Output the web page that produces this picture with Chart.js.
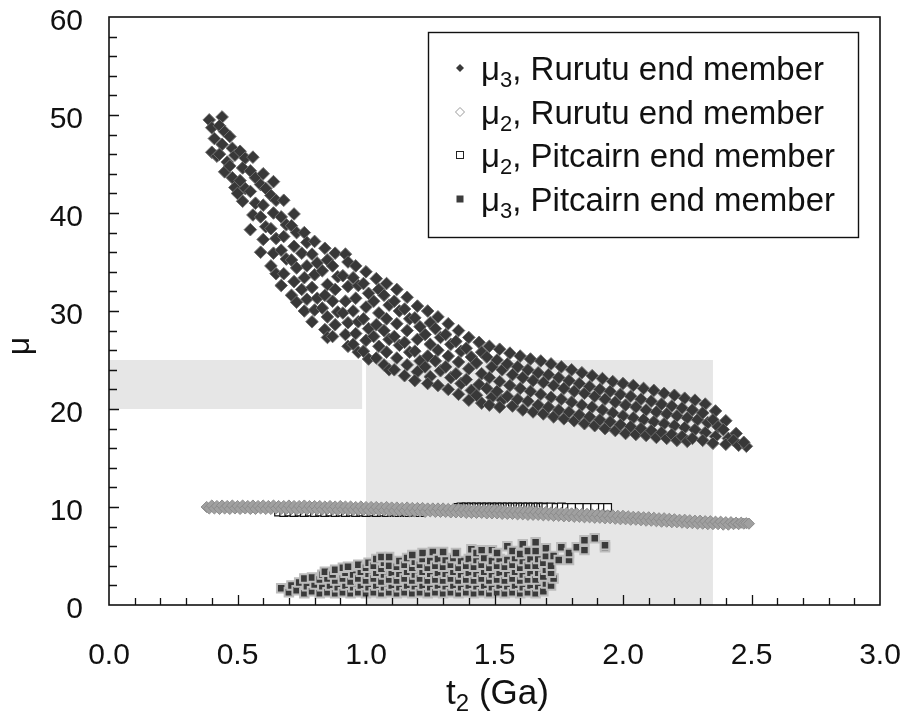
<!DOCTYPE html>
<html>
<head>
<meta charset="utf-8">
<script src="https://cdn.jsdelivr.net/npm/chart.js@4.4.1/dist/chart.umd.min.js"></script>
<style>
  html, body { margin: 0; padding: 0; background: #fff; }
  #wrap { width: 906px; height: 722px; }
</style>
</head>
<body>
<div id="wrap"><canvas id="mu-chart" width="906" height="722"></canvas></div>
<script>
"use strict";

const FONT = '"Liberation Sans", Arial, sans-serif';

const seriesLabels = [
    "μ3, Rurutu end member",
    "μ2, Rurutu end member",
    "μ2, Pitcairn end member",
    "μ3, Pitcairn end member",
];
const xTicks = [0.0, 0.5, 1.0, 1.5, 2.0, 2.5, 3.0];
const yTicks = [0, 10, 20, 30, 40, 50, 60];

// shaded ranges: [t2 from, t2 to, mu from, mu to]
const shadedBands = [
    [0.0, 0.985, 20, 25],
    [1.0, 2.35, 0, 25],
];

// [t2 (Ga), mu]
const rurutuMu3 = [
    [0.39,49.5],[0.40,48.7],[0.41,47.6],[0.40,46.2],[0.42,45.8],
    [0.44,49.8],[0.43,48.9],[0.45,48.3],[0.44,47.0],[0.43,46.0],[0.46,45.2],[0.45,44.2],
    [0.47,47.8],[0.48,46.6],[0.49,45.9],[0.47,44.8],[0.48,43.6],[0.49,42.6],
    [0.51,46.3],[0.53,45.6],[0.52,44.6],[0.51,43.3],[0.53,42.5],[0.52,41.2],[0.50,42.0],
    [0.56,45.7],[0.55,44.3],[0.57,43.6],[0.55,42.2],[0.57,41.0],[0.56,39.8],[0.55,38.3],
    [0.60,44.0],[0.59,42.9],[0.61,42.5],[0.60,40.8],[0.59,39.6],[0.61,38.6],[0.60,37.3],[0.59,36.0],
    [0.64,43.2],[0.63,41.8],[0.65,41.3],[0.64,40.0],[0.63,38.4],[0.65,37.4],[0.64,35.9],[0.63,34.6],[0.65,33.8],
    [0.68,41.3],[0.67,39.6],[0.69,38.8],[0.68,37.6],[0.67,36.2],[0.69,35.3],[0.68,33.8],[0.67,32.6],
    [0.72,39.9],[0.71,38.7],[0.73,38.0],[0.72,36.6],[0.71,35.2],[0.73,34.4],[0.72,33.0],[0.71,31.6],[0.73,30.9],
    [0.76,38.0],[0.77,37.0],[0.75,35.9],[0.77,34.6],[0.76,33.4],[0.75,32.2],[0.77,31.2],[0.76,30.0],
    [0.80,37.1],[0.79,35.8],[0.81,34.9],[0.80,33.7],[0.79,32.4],[0.81,31.3],[0.80,30.1],[0.79,28.9],
    [0.84,36.4],[0.85,35.2],[0.83,34.1],[0.85,32.7],[0.84,31.6],[0.83,30.3],[0.85,29.4],[0.84,28.1],[0.85,27.3],
    [0.88,35.9],[0.87,34.6],[0.89,33.5],[0.88,32.2],[0.87,31.0],[0.89,29.9],[0.88,28.6],[0.87,27.4],
    [0.92,35.8],[0.93,35.0],[0.91,33.6],[0.93,32.5],[0.92,31.0],[0.91,29.8],[0.93,28.8],[0.92,27.6],[0.93,26.4],
    [0.96,34.6],[0.95,33.4],[0.97,32.6],[0.96,31.3],[0.95,30.0],[0.97,28.9],[0.96,27.7],[0.95,26.6],[0.97,25.8],
    [1.00,34.0],[0.99,32.8],[1.01,31.8],[1.00,30.4],[0.99,29.2],[1.01,28.2],[1.00,27.0],[0.99,25.9],[1.01,25.1],
    [1.04,33.3],[1.05,32.2],[1.03,31.0],[1.05,29.8],[1.04,28.6],[1.03,27.4],[1.05,26.4],[1.04,25.2],
    [1.08,32.8],[1.07,31.6],[1.09,30.6],[1.08,29.2],[1.07,28.0],[1.09,27.1],[1.08,25.8],[1.07,24.5],[1.09,24.0],
    [1.12,32.2],[1.11,31.0],[1.13,30.0],[1.12,28.7],[1.11,27.4],[1.13,26.5],[1.12,25.2],[1.11,24.0],
    [1.16,31.4],[1.15,30.2],[1.17,29.2],[1.16,28.0],[1.15,26.8],[1.17,25.8],[1.16,24.5],[1.15,23.4],
    [1.20,30.5],[1.19,29.3],[1.21,28.4],[1.20,27.1],[1.19,25.9],[1.21,24.9],[1.20,23.8],[1.19,22.9],
    [1.24,30.0],[1.25,28.8],[1.23,27.6],[1.25,26.6],[1.24,25.4],[1.23,24.3],[1.25,23.3],[1.24,22.6],
    [1.28,29.4],[1.27,28.2],[1.29,27.3],[1.28,26.0],[1.27,24.9],[1.29,23.9],[1.28,22.4],
    [1.32,28.7],[1.31,27.6],[1.33,26.6],[1.32,25.4],[1.31,24.3],[1.33,23.2],[1.32,22.0],
    [1.36,28.0],[1.35,26.9],[1.37,25.9],[1.36,24.8],[1.35,23.6],[1.37,22.6],[1.36,21.5],
    [1.40,27.3],[1.39,26.2],[1.41,25.3],[1.40,24.1],[1.39,23.0],[1.41,21.9],[1.40,20.9],
    [1.44,26.8],[1.45,25.8],[1.43,24.7],[1.45,23.6],[1.44,22.5],[1.43,21.4],[1.45,20.6],
    [1.48,26.4],[1.47,25.3],[1.49,24.3],[1.48,23.2],[1.47,22.1],[1.49,21.2],[1.48,20.4],
    [1.52,26.1],[1.51,25.0],[1.53,24.0],[1.52,22.8],[1.51,21.8],[1.53,20.9],[1.52,20.2],
    [1.56,25.7],[1.55,24.6],[1.57,23.5],[1.56,22.4],[1.55,21.3],[1.57,20.3],
    [1.60,25.4],[1.59,24.3],[1.61,23.2],[1.60,22.1],[1.59,21.0],[1.61,19.9],
    [1.64,25.1],[1.63,24.0],[1.65,22.9],[1.64,21.8],[1.63,20.8],[1.65,19.7],
    [1.68,24.9],[1.67,23.7],[1.69,22.7],[1.68,21.5],[1.67,20.4],[1.69,19.5],
    [1.72,24.6],[1.71,23.5],[1.73,22.4],[1.72,21.2],[1.71,20.2],[1.73,19.2],
    [1.76,24.3],[1.75,23.2],[1.77,22.1],[1.76,21.0],[1.75,19.9],[1.77,19.0],
    [1.80,24.0],[1.79,22.9],[1.81,21.8],[1.80,20.7],[1.79,19.7],[1.81,18.8],
    [1.84,23.7],[1.83,22.6],[1.85,21.6],[1.84,20.4],[1.83,19.4],[1.85,18.5],
    [1.88,23.4],[1.87,22.3],[1.89,21.3],[1.88,20.2],[1.87,19.2],[1.89,18.3],
    [1.92,23.1],[1.91,22.0],[1.93,21.0],[1.92,19.9],[1.91,18.9],[1.93,18.0],
    [1.96,22.8],[1.95,21.8],[1.97,20.7],[1.96,19.6],[1.95,18.7],[1.97,17.8],
    [2.00,22.6],[1.99,21.5],[2.01,20.4],[2.00,19.3],[1.99,18.4],[2.01,17.5],
    [2.04,22.4],[2.03,21.3],[2.05,20.2],[2.04,19.1],[2.03,18.2],[2.05,17.4],
    [2.08,22.1],[2.07,21.0],[2.09,19.9],[2.08,18.9],[2.07,18.0],[2.09,17.3],
    [2.12,21.9],[2.11,20.8],[2.13,19.7],[2.12,18.7],[2.11,17.8],[2.13,17.1],
    [2.16,21.6],[2.15,20.5],[2.17,19.5],[2.16,18.5],[2.15,17.6],[2.17,17.0],
    [2.20,21.4],[2.19,20.3],[2.21,19.3],[2.20,18.3],[2.19,17.4],[2.21,16.8],
    [2.24,21.1],[2.23,20.1],[2.25,19.1],[2.24,18.1],[2.23,17.2],[2.25,16.7],
    [2.28,20.9],[2.27,19.9],[2.29,18.9],[2.28,17.9],[2.27,17.0],
    [2.32,20.5],[2.31,19.6],[2.33,18.6],[2.32,17.6],[2.31,16.8],
    [2.36,19.8],[2.35,18.9],[2.37,18.2],[2.36,17.2],[2.35,16.5],
    [2.40,18.8],[2.39,17.9],[2.41,17.0],[2.40,16.4],
    [2.44,17.5],[2.43,16.8],[2.45,16.3],
    [2.48,16.2],[2.47,16.6],
];

const rurutuMu2 = [
    [0.38,10.0],[0.39,9.85],[0.40,10.15],[0.41,9.85],[0.42,10.1],[0.43,9.8],[0.44,10.15],[0.45,9.85],[0.46,10.1],[0.47,9.8],[0.48,10.15],[0.49,9.85],
    [0.50,10.1],[0.51,9.8],[0.52,10.15],[0.53,9.85],[0.54,10.1],[0.55,9.8],[0.56,10.15],[0.57,9.8],[0.58,10.1],[0.59,9.85],
    [0.60,10.15],[0.61,9.8],[0.62,10.1],[0.63,9.8],[0.64,10.15],[0.65,9.85],[0.66,10.1],[0.67,9.8],[0.68,10.1],[0.69,9.8],
    [0.70,10.15],[0.71,9.8],[0.72,10.1],[0.73,9.75],[0.74,10.1],[0.75,9.8],[0.76,10.15],[0.77,9.75],[0.78,10.1],[0.79,9.8],
    [0.80,10.1],[0.81,9.75],[0.82,10.1],[0.83,9.75],[0.84,10.05],[0.85,9.8],[0.86,10.1],[0.87,9.75],[0.88,10.05],[0.89,9.7],
    [0.90,10.1],[0.91,9.75],[0.92,10.05],[0.93,9.7],[0.94,10.05],[0.95,9.7],[0.96,10.0],[0.97,9.7],[0.98,10.05],[0.99,9.7],
    [1.00,10.0],[1.01,9.65],[1.02,10.0],[1.03,9.7],[1.04,10.0],[1.05,9.65],[1.06,9.95],[1.07,9.65],[1.08,10.0],[1.09,9.6],
    [1.10,9.95],[1.11,9.6],[1.12,9.95],[1.13,9.6],[1.14,9.9],[1.15,9.6],[1.16,9.95],[1.17,9.55],[1.18,9.9],[1.19,9.55],
    [1.20,9.9],[1.21,9.55],[1.22,9.9],[1.23,9.5],[1.24,9.85],[1.25,9.55],[1.26,9.85],[1.27,9.5],[1.28,9.85],[1.29,9.5],
    [1.30,9.85],[1.31,9.5],[1.32,9.8],[1.33,9.45],[1.34,9.8],[1.35,9.45],[1.36,9.8],[1.37,9.45],[1.38,9.75],[1.39,9.4],
    [1.40,9.75],[1.41,9.4],[1.42,9.75],[1.43,9.4],[1.44,9.7],[1.45,9.4],[1.46,9.7],[1.47,9.35],[1.48,9.7],[1.49,9.35],
    [1.50,9.7],[1.51,9.35],[1.52,9.65],[1.53,9.3],[1.54,9.65],[1.55,9.3],[1.56,9.6],[1.57,9.3],[1.58,9.6],[1.59,9.25],
    [1.60,9.6],[1.61,9.25],[1.62,9.55],[1.63,9.2],[1.64,9.55],[1.65,9.2],[1.66,9.5],[1.67,9.2],[1.68,9.5],[1.69,9.15],
    [1.70,9.5],[1.71,9.15],[1.72,9.45],[1.73,9.1],[1.74,9.45],[1.75,9.1],[1.76,9.4],[1.77,9.05],[1.78,9.4],[1.79,9.05],
    [1.80,9.35],[1.81,9.0],[1.82,9.35],[1.83,9.0],[1.84,9.3],[1.85,8.95],[1.86,9.3],[1.87,8.95],[1.88,9.25],[1.89,8.9],
    [1.90,9.25],[1.91,8.9],[1.92,9.2],[1.93,8.85],[1.94,9.15],[1.95,8.85],[1.96,9.15],[1.97,8.8],[1.98,9.1],[1.99,8.75],
    [2.00,9.1],[2.01,8.75],[2.02,9.05],[2.03,8.7],[2.04,9.0],[2.05,8.7],[2.06,9.0],[2.07,8.65],[2.08,8.95],[2.09,8.6],
    [2.10,8.95],[2.11,8.6],[2.12,8.9],[2.13,8.55],[2.14,8.85],[2.15,8.5],[2.16,8.85],[2.17,8.5],[2.18,8.8],[2.19,8.45],
    [2.20,8.75],[2.21,8.45],[2.22,8.7],[2.23,8.4],[2.24,8.7],[2.25,8.35],[2.26,8.65],[2.27,8.35],[2.28,8.6],[2.29,8.3],
    [2.30,8.6],[2.31,8.3],[2.32,8.55],[2.33,8.25],[2.34,8.55],[2.35,8.25],[2.36,8.5],[2.37,8.25],[2.38,8.5],[2.39,8.2],
    [2.40,8.45],[2.41,8.2],[2.42,8.45],[2.43,8.25],[2.44,8.4],[2.45,8.25],[2.46,8.4],[2.47,8.3],[2.48,8.35],[2.49,8.3],
];

const pitcairnMu2 = [
    [0.66,9.5],[0.68,9.45],[0.70,9.5],[0.72,9.45],[0.74,9.5],[0.76,9.45],[0.78,9.5],[0.80,9.45],
    [0.82,9.5],[0.84,9.45],[0.86,9.5],[0.88,9.45],[0.90,9.5],[0.92,9.45],[0.94,9.5],[0.96,9.45],
    [0.98,9.5],[1.00,9.45],[1.02,9.5],[1.04,9.45],[1.06,9.5],[1.08,9.45],[1.10,9.5],[1.12,9.45],
    [1.14,9.5],[1.16,9.45],[1.18,9.5],[1.21,9.45],
    [1.36,9.95],[1.37,10.0],[1.38,9.95],[1.39,10.0],[1.40,9.95],[1.41,10.0],[1.42,9.95],[1.43,10.0],
    [1.44,9.95],[1.45,10.0],[1.46,9.95],[1.47,10.0],[1.48,9.95],[1.49,10.0],[1.50,9.95],[1.51,10.0],
    [1.52,9.95],[1.53,10.0],[1.54,9.95],[1.55,10.0],[1.56,9.95],[1.57,10.0],[1.58,9.95],[1.59,10.0],
    [1.60,9.95],[1.61,10.0],[1.62,9.95],[1.63,10.0],[1.64,9.95],[1.65,10.0],[1.66,9.95],[1.67,10.0],
    [1.68,9.95],[1.69,10.0],[1.70,9.95],[1.72,10.0],[1.74,9.95],[1.76,10.0],[1.78,9.95],[1.80,9.95],
    [1.83,9.95],[1.86,9.95],[1.89,9.95],[1.92,9.95],[1.94,9.95],
];

const pitcairnMu3 = [
    [0.67,1.7],
    [0.70,1.3],[0.71,2.0],
    [0.73,1.5],[0.74,2.3],
    [0.76,1.2],[0.77,1.9],[0.76,2.7],
    [0.79,1.4],[0.80,2.1],[0.79,2.8],
    [0.82,1.2],[0.83,1.9],[0.82,2.6],[0.83,3.1],
    [0.85,1.3],[0.86,2.0],[0.85,2.7],[0.84,3.4],
    [0.88,1.2],[0.89,1.8],[0.88,2.5],[0.87,3.1],[0.88,3.6],
    [0.91,1.3],[0.92,2.0],[0.91,2.7],[0.92,3.3],[0.91,3.8],
    [0.94,1.2],[0.95,1.8],[0.94,2.4],[0.95,3.1],[0.93,3.9],
    [0.97,1.3],[0.98,2.0],[0.97,2.7],[0.98,3.4],[0.97,4.1],
    [1.00,1.2],[1.01,1.8],[1.00,2.5],[1.01,3.2],[1.00,3.8],[1.01,4.3],
    [1.03,1.3],[1.04,2.0],[1.03,2.7],[1.04,3.3],[1.03,4.0],[1.04,4.7],
    [1.06,1.2],[1.07,1.8],[1.06,2.4],[1.07,3.1],[1.06,3.7],[1.07,4.3],[1.06,4.9],
    [1.09,1.3],[1.10,2.0],[1.09,2.6],[1.10,3.3],[1.09,4.0],[1.09,4.9],
    [1.12,1.2],[1.13,1.8],[1.12,2.5],[1.13,3.2],[1.12,3.9],[1.13,4.5],
    [1.15,1.3],[1.16,2.0],[1.15,2.7],[1.16,3.4],[1.15,4.1],[1.16,4.8],
    [1.18,1.2],[1.19,1.9],[1.18,2.5],[1.19,3.1],[1.18,3.8],[1.19,4.4],[1.18,5.1],
    [1.21,1.3],[1.22,2.0],[1.21,2.7],[1.22,3.4],[1.21,4.1],[1.22,4.7],[1.22,5.3],
    [1.24,1.2],[1.25,1.8],[1.24,2.5],[1.25,3.2],[1.24,3.8],[1.25,4.5],[1.26,5.4],
    [1.27,1.3],[1.28,2.0],[1.27,2.6],[1.28,3.3],[1.27,4.0],[1.28,4.7],
    [1.30,1.2],[1.31,1.9],[1.30,2.5],[1.31,3.2],[1.30,3.9],[1.31,4.6],[1.30,5.4],
    [1.33,1.3],[1.34,2.0],[1.33,2.7],[1.34,3.4],[1.33,4.1],[1.34,4.8],
    [1.36,1.2],[1.37,1.8],[1.36,2.5],[1.37,3.1],[1.36,3.8],[1.37,4.5],[1.35,5.3],
    [1.39,1.3],[1.40,2.0],[1.39,2.6],[1.40,3.3],[1.39,4.0],[1.40,4.7],[1.41,5.7],
    [1.42,1.2],[1.43,1.9],[1.42,2.5],[1.43,3.2],[1.42,3.9],[1.43,4.6],[1.43,5.3],
    [1.45,1.3],[1.46,2.0],[1.45,2.7],[1.46,3.4],[1.45,4.1],[1.46,4.8],[1.45,5.6],
    [1.48,1.2],[1.49,1.8],[1.48,2.5],[1.49,3.1],[1.48,3.8],[1.49,4.5],[1.49,5.6],
    [1.51,1.3],[1.52,2.0],[1.51,2.6],[1.52,3.3],[1.51,4.0],[1.52,4.7],[1.51,5.3],
    [1.54,1.2],[1.55,1.9],[1.54,2.5],[1.55,3.2],[1.54,3.9],[1.55,4.6],[1.55,6.0],
    [1.57,1.3],[1.58,2.0],[1.57,2.7],[1.58,3.4],[1.57,4.1],[1.58,4.8],[1.57,5.5],
    [1.60,1.2],[1.61,1.8],[1.60,2.5],[1.61,3.1],[1.60,3.8],[1.61,4.5],[1.60,5.2],[1.61,6.2],
    [1.63,1.3],[1.64,2.0],[1.63,2.6],[1.64,3.3],[1.63,4.0],[1.64,4.7],[1.63,5.5],
    [1.66,1.2],[1.67,1.9],[1.66,2.6],[1.67,3.3],[1.66,4.0],[1.67,4.7],[1.66,5.5],[1.66,6.4],
    [1.69,1.4],[1.70,2.2],[1.69,2.9],[1.70,3.6],[1.69,4.3],[1.70,5.0],[1.70,5.8],
    [1.72,2.0],[1.73,2.7],[1.72,3.3],[1.72,4.0],[1.73,5.0],
    [1.75,4.6],[1.76,5.9],
    [1.79,4.6],[1.79,5.3],
    [1.82,5.9],
    [1.85,5.6],[1.85,6.6],
    [1.89,6.8],
    [1.93,5.9],[1.93,6.1],
];

const toPoints = (list) => list.map(([x, y]) => ({ x, y }));

// writes "μ3, ..." with the digit after μ as a subscript
function drawSubscripted(ctx, text, x, y, size) {
    const head = text.charAt(0);
    const sub = text.charAt(1);
    const rest = text.slice(2);
    ctx.font = `${size}px ${FONT}`;
    ctx.fillText(head, x, y);
    x += ctx.measureText(head).width;
    ctx.font = `${Math.round(size * 0.68)}px ${FONT}`;
    ctx.fillText(sub, x, y + size * 0.2);
    x += ctx.measureText(sub).width;
    ctx.font = `${size}px ${FONT}`;
    ctx.fillText(rest, x, y);
}

function legendMarker(ctx, kind, x, y) {
    ctx.save();
    ctx.lineWidth = 1;
    if (kind === 0) {
        ctx.fillStyle = "#3a3a3a";
        ctx.beginPath();
        ctx.moveTo(x - 4, y); ctx.lineTo(x, y - 4); ctx.lineTo(x + 4, y); ctx.lineTo(x, y + 4);
        ctx.closePath();
        ctx.fill();
    } else if (kind === 1) {
        ctx.strokeStyle = "#9a9a9a";
        ctx.fillStyle = "#fff";
        ctx.beginPath();
        ctx.moveTo(x - 4.5, y); ctx.lineTo(x, y - 4.5); ctx.lineTo(x + 4.5, y); ctx.lineTo(x, y + 4.5);
        ctx.closePath();
        ctx.fill();
        ctx.stroke();
    } else if (kind === 2) {
        ctx.strokeStyle = "#222";
        ctx.strokeRect(x - 3.5, y - 3.5, 7, 7);
    } else {
        ctx.fillStyle = "#3c3c3c";
        ctx.fillRect(x - 3.5, y - 3.5, 7, 7);
    }
    ctx.restore();
}

// grey ranges behind the points
const shadePlugin = {
    id: "shadedBands",
    beforeDatasetsDraw(chart) {
        const { ctx, scales: { x, y } } = chart;
        ctx.save();
        ctx.fillStyle = "#e6e6e6";
        shadedBands.forEach(([x0, x1, y0, y1]) => {
            const left = x.getPixelForValue(x0);
            const right = x.getPixelForValue(x1);
            const top = y.getPixelForValue(y1);
            const bottom = y.getPixelForValue(y0);
            ctx.fillRect(left, top, right - left, bottom - top);
        });
        ctx.restore();
    },
};

// box frame, inward ticks, axis titles and the boxed legend
const framePlugin = {
    id: "frameAndLegend",
    afterDraw(chart) {
        const { ctx, chartArea: a, scales: { x, y } } = chart;
        ctx.save();

        ctx.strokeStyle = "#111";
        ctx.lineWidth = 1.6;
        ctx.strokeRect(a.left, a.top, a.right - a.left, a.bottom - a.top);

        ctx.beginPath();
        for (let i = 1; i < 30; i++) {
            const px = Math.round(x.getPixelForValue(i / 10)) + 0.5;
            const len = i % 5 === 0 ? 10 : 7;
            ctx.moveTo(px, a.bottom);
            ctx.lineTo(px, a.bottom - len);
        }
        for (let v = 2; v < 60; v += 2) {
            const py = Math.round(y.getPixelForValue(v)) + 0.5;
            const len = v % 10 === 0 ? 10 : 8;
            ctx.moveTo(a.left, py);
            ctx.lineTo(a.left + len, py);
        }
        ctx.lineWidth = 1.3;
        ctx.stroke();

        // axis titles
        ctx.fillStyle = "#111";
        ctx.textBaseline = "alphabetic";
        ctx.textAlign = "left";
        const titleSize = 35;
        const subSize = Math.round(titleSize * 0.68);
        ctx.font = `${titleSize}px ${FONT}`;
        const wT = ctx.measureText("t").width;
        const wRest = ctx.measureText(" (Ga)").width;
        ctx.font = `${subSize}px ${FONT}`;
        const w2 = ctx.measureText("2").width;
        let tx = (a.left + a.right) / 2 + 3 - (wT + w2 + wRest) / 2;
        const ty = 704;
        ctx.font = `${titleSize}px ${FONT}`;
        ctx.fillText("t", tx, ty);
        tx += wT;
        ctx.font = `${subSize}px ${FONT}`;
        ctx.fillText("2", tx, ty + 7);
        tx += w2;
        ctx.font = `${titleSize}px ${FONT}`;
        ctx.fillText(" (Ga)", tx, ty);

        ctx.save();
        ctx.translate(29, 346);
        ctx.rotate(-Math.PI / 2);
        ctx.textAlign = "center";
        ctx.font = `32px ${FONT}`;
        ctx.fillText("μ", 0, 0);
        ctx.restore();

        // legend box
        const boxLeft = a.right - 452;
        const boxTop = a.top + 15;
        ctx.fillStyle = "#fff";
        ctx.fillRect(boxLeft, boxTop, 430, 205);
        ctx.strokeStyle = "#111";
        ctx.lineWidth = 1.4;
        ctx.strokeRect(boxLeft + 0.5, boxTop + 0.5, 430, 205);

        const rowOffsets = [36, 80, 123, 167];
        seriesLabels.forEach((label, i) => {
            const cy = boxTop + rowOffsets[i];
            legendMarker(ctx, i, boxLeft + 32, cy);
            ctx.fillStyle = "#111";
            drawSubscripted(ctx, label, boxLeft + 53, cy + 12, 33);
        });

        ctx.restore();
    },
};

// keep the tick labels from pushing the plot area inwards
const clearEdgePadding = (scale) => {
    scale.paddingTop = 0;
    scale.paddingBottom = 0;
    scale.paddingLeft = 0;
    scale.paddingRight = 0;
};

const ctx = document.getElementById("mu-chart").getContext("2d");

new Chart(ctx, {
    type: "scatter",
    data: {
        datasets: [
            {
                label: seriesLabels[0],
                data: toPoints(rurutuMu3),
                pointStyle: "rectRot",
                pointRadius: 6.3,
                backgroundColor: "#383838",
                borderColor: "#6c6c6c",
                borderWidth: 1,
            },
            {
                label: seriesLabels[1],
                data: toPoints(rurutuMu2),
                pointStyle: "rectRot",
                pointRadius: 5.6,
                backgroundColor: "#a0a0a0",
                borderColor: "#8c8c8c",
                borderWidth: 1,
            },
            {
                label: seriesLabels[2],
                data: toPoints(pitcairnMu2),
                pointStyle: "rect",
                pointRadius: 5.5,
                backgroundColor: "#ffffff",
                borderColor: "#111111",
                borderWidth: 1.2,
            },
            {
                label: seriesLabels[3],
                data: toPoints(pitcairnMu3),
                pointStyle: "rect",
                pointRadius: 6,
                backgroundColor: "#3a3a3a",
                borderColor: "#bcbcbc",
                borderWidth: 2,
            },
        ],
    },
    options: {
        responsive: false,
        animation: false,
        devicePixelRatio: 1,
        layout: { padding: { left: 0, right: 26, top: 17, bottom: 0 } },
        plugins: {
            legend: { display: false },
            tooltip: { enabled: false },
        },
        scales: {
            x: {
                type: "linear",
                min: 0,
                max: 3,
                afterBuildTicks: (scale) => { scale.ticks = xTicks.map((value) => ({ value })); },
                afterFit: (scale) => { scale.height = 117; clearEdgePadding(scale); },
                grid: { display: false, drawTicks: false },
                border: { display: false },
                ticks: {
                    padding: 33,
                    color: "#111",
                    maxRotation: 0,
                    autoSkip: false,
                    font: { family: FONT, size: 30 },
                    callback: (value) => Number(value).toFixed(1),
                },
            },
            y: {
                type: "linear",
                min: 0,
                max: 60,
                afterBuildTicks: (scale) => { scale.ticks = yTicks.map((value) => ({ value })); },
                afterFit: (scale) => { scale.width = 109; clearEdgePadding(scale); },
                grid: { display: false, drawTicks: false },
                border: { display: false },
                ticks: {
                    padding: 26,
                    labelOffset: 5,
                    color: "#111",
                    autoSkip: false,
                    font: { family: FONT, size: 30, lineHeight: 1 },
                    callback: (value) => String(value),
                },
            },
        },
    },
    plugins: [shadePlugin, framePlugin],
});
</script>
</body>
</html>
